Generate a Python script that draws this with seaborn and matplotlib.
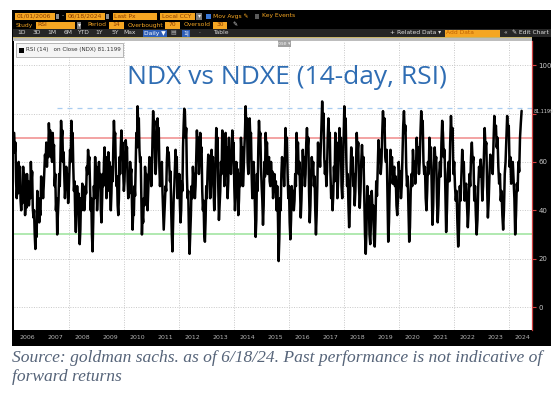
import numpy as np
import pandas as pd
import matplotlib
matplotlib.use("Agg")
import matplotlib.pyplot as plt
from matplotlib.patches import Rectangle
import seaborn as sns

# ── Données (oscillations du RSI 14 jours) ──────────────────────────────────
seg_starts = ["2006-01-03", "2009-02-03", "2012-03-20", "2015-05-08",
              "2018-06-20", "2021-08-08"]
last_date = "2024-06-18"

rsi_2006 = [72, 64, 68, 52, 45, 50, 47, 60, 54, 58, 44, 40, 46, 43, 58, 50,
            55, 38, 44, 41, 55, 49, 52, 42, 47, 45, 60, 52, 56, 41, 37, 40,
            30, 24, 33, 29, 48, 42, 45, 35, 40, 38, 54, 48, 51, 45, 50, 56,
            63, 59, 68, 58, 64, 62, 76, 70, 73, 62, 66, 60, 72, 64, 67, 50,
            55, 40, 45, 30, 38, 44, 55, 50, 62, 77, 70, 73, 60, 64, 55, 45,
            50, 58, 52, 55, 43, 48, 56, 65, 60, 77, 70, 72, 58, 48, 52, 38,
            31, 40, 50, 44, 47, 34, 26, 32, 45, 40, 51, 46, 48, 40, 44, 50,
            47, 58, 55, 65, 60, 62, 50, 40, 45, 30, 23, 35, 50, 45, 62, 55,
            58, 40, 47, 55]
rsi_2009 = [60, 52, 55, 40, 35, 44, 55, 50, 60, 66, 58, 62, 45, 50, 48, 64,
            58, 60, 46, 40, 47, 58, 52, 66, 77, 70, 72, 58, 50, 54, 42, 38,
            45, 62, 55, 66, 73, 65, 68, 55, 48, 52, 62, 69, 64, 66, 52, 45,
            50, 47, 60, 55, 57, 42, 32, 40, 38, 50, 46, 60, 72, 66, 83, 75,
            78, 65, 60, 62, 45, 30, 38, 35, 45, 42, 58, 52, 55, 44, 40, 47,
            55, 62, 57, 60, 50, 56, 70, 81, 74, 77, 62, 55, 60, 70, 78, 72,
            74, 58, 50, 55, 52, 60, 48, 40, 32, 38, 44, 50, 48, 60, 66, 62,
            64, 58, 52, 56, 40, 30, 23, 35, 45, 50, 58, 65, 60, 62, 45, 52,
            48, 55, 42, 35, 40, 52, 48, 66, 75, 82]
rsi_2012 = [81, 70, 74, 55, 45, 48, 32, 22, 30, 38, 50, 45, 58, 52, 55, 45,
            50, 62, 73, 66, 70, 55, 60, 72, 64, 66, 48, 40, 44, 30, 27, 36,
            50, 45, 56, 63, 58, 60, 45, 50, 65, 58, 62, 48, 40, 46, 60, 74,
            66, 70, 50, 36, 42, 48, 60, 55, 73, 65, 68, 50, 55, 72, 62, 66,
            45, 52, 70, 60, 64, 55, 62, 73, 65, 68, 50, 40, 46, 60, 54, 57,
            38, 44, 55, 50, 70, 63, 66, 50, 56, 65, 72, 83, 74, 78, 60, 55,
            62, 78, 70, 72, 55, 45, 50, 60, 52, 40, 29, 36, 55, 48, 66, 77,
            70, 72, 58, 50, 44, 34, 42, 60, 54, 72, 65, 68, 55, 60, 62, 52,
            50]
rsi_2015 = [60, 54, 56, 45, 50, 55, 48, 52, 40, 50, 38, 19, 28, 45, 40, 55,
            62, 56, 58, 50, 60, 74, 66, 70, 55, 45, 50, 35, 28, 36, 50, 44,
            48, 40, 44, 55, 50, 72, 64, 68, 55, 60, 48, 37, 44, 55, 65, 58,
            62, 50, 55, 68, 74, 66, 70, 48, 35, 42, 55, 62, 56, 60, 50, 54,
            40, 30, 38, 50, 68, 60, 64, 58, 66, 75, 85, 76, 80, 62, 55, 60,
            50, 56, 70, 78, 70, 72, 55, 45, 50, 40, 46, 58, 52, 72, 64, 68,
            45, 52, 62, 74, 66, 70, 50, 45, 55, 70, 83, 75, 78, 60, 50, 55,
            42, 33, 40, 55, 66, 60, 62, 50, 55, 42, 48, 60]
rsi_2018 = [72, 64, 68, 50, 41, 48, 60, 67, 58, 62, 45, 30, 22, 32, 50, 44,
            46, 30, 26, 35, 48, 40, 42, 28, 25, 36, 52, 46, 58, 69, 62, 65,
            55, 60, 72, 81, 74, 78, 62, 60, 65, 45, 27, 35, 50, 65, 58, 62,
            51, 55, 58, 50, 54, 42, 38, 45, 60, 54, 56, 45, 50, 62, 75, 81,
            72, 75, 58, 50, 54, 40, 27, 33, 48, 55, 50, 65, 58, 60, 51, 56,
            70, 62, 66, 55, 60, 72, 81, 74, 77, 60, 55, 58, 45, 40, 48, 60,
            55, 70, 62, 66, 50, 34, 42, 58, 66, 60, 62, 45, 35, 42, 55, 60,
            54, 68, 77]
rsi_2021 = [72, 62, 65, 48, 31, 40, 55, 60, 52, 68, 79, 70, 74, 55, 60, 50,
            44, 48, 35, 25, 32, 50, 44, 55, 65, 58, 60, 44, 50, 51, 42, 33,
            40, 55, 50, 62, 68, 60, 62, 44, 50, 38, 30, 36, 50, 58, 54, 61,
            55, 44, 50, 62, 74, 66, 68, 50, 37, 44, 55, 63, 58, 60, 55, 68,
            79, 72, 75, 66, 70, 58, 51, 55, 44, 48, 38, 32, 40, 55, 60, 70,
            79, 72, 75, 58, 62, 51, 55, 60, 52, 45, 30, 38, 51, 48, 60, 56,
            70, 76, 81.12]
segments = [rsi_2006, rsi_2009, rsi_2012, rsi_2015, rsi_2018, rsi_2021]

year_labels = list(range(2006, 2025))
y_ticks = [0, 20, 40, 60, 80, 100]
y_tick_labels = ["0", "20", "40", "60", "", "100"]  # 80 masqué par la valeur
overbought, oversold = 70, 30
max_level = 82.5
last_value = "81.1199"

# Construction de la série (dates réparties dans chaque segment)
frames = []
for i, seg in enumerate(segments):
    if i + 1 < len(seg_starts):
        d = pd.date_range(seg_starts[i], seg_starts[i + 1],
                          periods=len(seg) + 1)[:-1]
    else:
        d = pd.date_range(seg_starts[i], last_date, periods=len(seg))
    frames.append(pd.DataFrame({"date": d, "rsi": seg}))
df = pd.concat(frames, ignore_index=True)

# ── Figure ──────────────────────────────────────────────────────────────────
sns.set_style("white")
plt.rcParams["font.family"] = ["DejaVu Sans"]
W, H = 558, 400
fig = plt.figure(figsize=(W / 100, H / 100), dpi=100)


def rect(x0, y0, x1, y1, color, z=1, **kw):
    fig.add_artist(Rectangle((x0 / W, 1 - y1 / H), (x1 - x0) / W, (y1 - y0) / H,
                             transform=fig.transFigure, facecolor=color,
                             edgecolor=kw.pop("ec", "none"), lw=kw.pop("lw", 0),
                             zorder=z, **kw))


def txt(x, y, s, color, size=4.3, ha="left", z=6, **kw):
    fig.text(x / W, 1 - y / H, s, color=color, fontsize=size, ha=ha,
             va="center", zorder=z, **kw)


ORANGE = "#f5a623"
FIELD_TXT = "#8a3b00"

# fond noir du terminal
rect(12, 10, 551, 346, "black", z=-2)
rect(13, 29, 551, 37, "#262626", z=-1)
rect(13, 37, 532, 38, "#c8b56a", z=-1)
rect(13, 38, 532, 41, "#bdbdbd", z=-1)

ax = fig.add_axes([14 / W, 1 - 330 / H, (532 - 14) / W, (330 - 41) / H])
ax.set_facecolor("white")

sns.lineplot(data=df, x="date", y="rsi", ax=ax, color="black", lw=1.8,
             estimator=None)

ax.axhline(overbought, color="#f08a8a", lw=1.1, zorder=1)
ax.axhline(oversold, color="#9be39b", lw=1.1, zorder=1)
ax.hlines(max_level, pd.Timestamp("2007-07-20"), pd.Timestamp("2024-11-03"),
          colors="#a9cdf0", lw=0.9, linestyles=(0, (4, 4)), zorder=1)

ax.set_xlim(pd.Timestamp("2006-01-01"), pd.Timestamp("2024-11-03"))
ax.set_ylim(-9.5, 110)

# grilles pointillées
ax.set_yticks(y_ticks)
ax.set_yticklabels(y_tick_labels)
ax.grid(axis="y", color="#c8c8c8", lw=0.7, ls=(0, (1, 1.5)), zorder=0)
for yr in year_labels:
    if yr % 2 == 0 and yr > 2006:
        ax.axvline(pd.Timestamp(f"{yr}-01-01"), color="#c8c8c8", lw=0.7,
                   ls=(0, (1, 1.5)), zorder=0)

# axe Y à droite
ax.yaxis.tick_right()
ax.tick_params(axis="y", which="major", direction="out", length=3, width=0.8,
               color="#d04040", labelcolor="#c8c8c8", labelsize=5, pad=1.5)

# axe X : séparateurs d'années + étiquettes centrées
ax.set_xticks([pd.Timestamp(f"{yr}-01-01") for yr in year_labels[1:]])
ax.set_xticklabels([])
ax.set_xticks([pd.Timestamp(f"{yr}-07-01") for yr in year_labels], minor=True)
ax.set_xticklabels([str(yr) for yr in year_labels], minor=True)
ax.tick_params(axis="x", which="major", direction="out", length=12, width=0.6,
               color="#5a5a5a")
ax.tick_params(axis="x", which="minor", length=0, labelcolor="#b4b4b4",
               labelsize=4.5, pad=3.5)
ax.set_xlabel("")
ax.set_ylabel("")

for side in ["top", "left", "bottom"]:
    ax.spines[side].set_visible(False)
ax.spines["right"].set_color("#d04040")
ax.spines["right"].set_linewidth(0.9)

# titre dans le graphique
ax.text(0.527, 0.875, "NDX vs NDXE (14-day, RSI)", transform=ax.transAxes,
        ha="center", va="center", color="#2f6db3", fontsize=19,
        family="Open Sans")

# légende Bloomberg
rect(16, 43, 123, 57, "#f4f4f4", z=5, ec="#9a9a9a", lw=0.5)
rect(19, 47.5, 24, 52.5, "black", z=6)
txt(26, 50, "RSI (14)   on Close (NDX) 81.1199", "#333333", size=4.1)

# petit onglet en haut
rect(278, 40, 291, 47, "#a0a0a0", z=5)
txt(284.5, 43.5, "ose \u25be", "#eeeeee", size=3.5, ha="center")

# valeur courante à droite
txt(533.5, 111, last_value, "#d8d8d8", size=3.5)

# ── Barre d'outils ──────────────────────────────────────────────────────────
def field(x0, x1, y0, y1, s, fc=ORANGE, tc=FIELD_TXT, ha="left"):
    rect(x0, y0, x1, y1, fc, z=5)
    if s:
        xt = x0 + 1.5 if ha == "left" else (x0 + x1) / 2
        txt(xt, (y0 + y1) / 2, s, tc, ha=ha)


# ligne 1
field(15, 55, 12.5, 19.5, "01/01/2006")
field(56, 59, 13.5, 18.5, "", fc="#8c8c8c")
txt(62, 16, "-", "#dddddd")
field(66, 105, 12.5, 19.5, "06/18/2024")
field(106, 109, 13.5, 18.5, "", fc="#8c8c8c")
field(113, 157, 12.5, 19.5, "Last Px")
field(160, 195, 12.5, 19.5, "Local CCY")
field(196, 202, 12.5, 19.5, "\u25be", fc="#7a7a7a", tc="#eeeeee", ha="center")
field(206, 210.5, 14, 18.5, "", fc="#3a78d8")
txt(213, 16, "Mov Avgs \u270e", ORANGE)
field(255, 259, 14, 18.5, "", fc="#5a5a5a")
txt(262, 16, "Key Events", ORANGE)

# ligne 2
txt(16, 25, "Study", ORANGE)
field(36, 75, 21.5, 28.5, "RSI")
field(77, 81, 21.5, 28.5, "\u25be", fc="#7a7a7a", tc="#eeeeee", ha="center")
txt(87, 25, "Period", ORANGE)
field(109, 124, 21.5, 28.5, "14", ha="center")
txt(128, 25, "Overbought", ORANGE)
field(165, 180, 21.5, 28.5, "70", ha="center")
txt(184, 25, "Oversold", ORANGE)
field(213, 227, 21.5, 28.5, "30", ha="center")
txt(232, 25, "\u270e", "#dddddd")

# ligne 3
for x, s in [(22, "1D"), (37, "3D"), (52, "1M"), (68, "6M"), (83, "YTD"),
             (99, "1Y"), (115, "5Y"), (130, "Max")]:
    txt(x, 33, s, "#d8d8d8", ha="center")
field(143, 167, 29.5, 36.5, "Daily \u25bc", fc="#2f5fb8", tc="white",
      ha="center")
txt(173, 33, "\u25a4", "#aaaaaa", ha="center")
field(182, 190, 29.5, 36.5, "1|", fc="#2f5fb8", tc="white", ha="center")
txt(199, 33, "\u00b7", "#cccccc", ha="center")
txt(221, 33, "Table", "#d8d8d8", ha="center")
txt(390, 33, "+ Related Data \u25be", "#e0e0e0")
field(445, 500, 29.5, 36.5, "Add Data", tc="#c06000")
txt(504, 33, "\u00ab", "#dddddd")
txt(512, 33, "\u270e Edit Chart", "#e0e0e0")

# ── Légende de la source ────────────────────────────────────────────────────
cap = dict(color="#566479", fontsize=12.6, style="italic",
           family="Liberation Serif", va="center", ha="left")
fig.text(12 / W, 1 - 358 / H,
         "Source: goldman sachs. as of 6/18/24. Past performance is not "
         "indicative of", **cap)
fig.text(12 / W, 1 - 377 / H, "forward returns", **cap)

fig.savefig("out.png", dpi=100)
